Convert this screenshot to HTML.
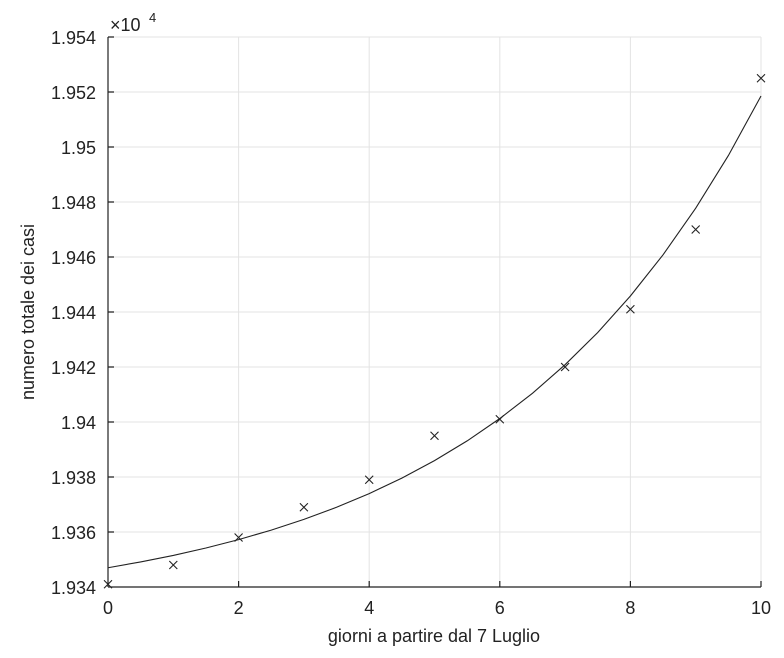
<!DOCTYPE html>
<html><head><style>body{margin:0;background:#fff}svg{display:block}text{font-family:"Liberation Sans",sans-serif;fill:#222}</style></head>
<body>
<svg width="784" height="658" viewBox="0 0 784 658">
<g stroke="#e3e3e3" stroke-width="1">
<line x1="238.6" y1="37" x2="238.6" y2="587"/><line x1="369.2" y1="37" x2="369.2" y2="587"/><line x1="499.8" y1="37" x2="499.8" y2="587"/><line x1="630.4" y1="37" x2="630.4" y2="587"/><line x1="761" y1="37" x2="761" y2="587"/>
<line x1="108" y1="37" x2="761" y2="37"/><line x1="108" y1="92" x2="761" y2="92"/><line x1="108" y1="147" x2="761" y2="147"/><line x1="108" y1="202" x2="761" y2="202"/><line x1="108" y1="257" x2="761" y2="257"/><line x1="108" y1="312" x2="761" y2="312"/><line x1="108" y1="367" x2="761" y2="367"/><line x1="108" y1="422" x2="761" y2="422"/><line x1="108" y1="477" x2="761" y2="477"/><line x1="108" y1="532" x2="761" y2="532"/>
</g>
<g stroke="#222" stroke-width="1.2" fill="none">
<line x1="108" y1="37" x2="108" y2="587"/><line x1="108" y1="587" x2="761" y2="587"/>
<path d="M108 37h6M108 92h6M108 147h6M108 202h6M108 257h6M108 312h6M108 367h6M108 422h6M108 477h6M108 532h6M238.6 587v-6M369.2 587v-6M499.8 587v-6M630.4 587v-6M761 587v-6"/>
<polyline stroke-width="1.1" points="108,567.75 140.65,561.9 173.3,555.4 205.95,548 238.6,539.6 271.25,530.1 303.9,519.4 336.55,507.3 369.2,493.6 401.85,478.1 434.5,460.6 467.15,440.9 499.8,418.5 532.45,393.3 565.1,364.7 597.75,332.5 630.4,296 663.05,254.8 695.7,208.2 728.35,155.6 761,96"/>
</g>
<g stroke="#222" stroke-width="1.1">
<path d="M104 580.25l8 8M104 588.25l8-8 M169.3 561l8 8M169.3 569l8-8 M234.6 533.5l8 8M234.6 541.5l8-8 M299.9 503.25l8 8M299.9 511.25l8-8 M365.2 475.75l8 8M365.2 483.75l8-8 M430.5 431.75l8 8M430.5 439.75l8-8 M495.8 415.25l8 8M495.8 423.25l8-8 M561.1 363l8 8M561.1 371l8-8 M626.4 305.25l8 8M626.4 313.25l8-8 M691.7 225.5l8 8M691.7 233.5l8-8 M757 74.25l8 8M757 82.25l8-8"/>
</g>
<g font-size="18" text-anchor="end">
<text x="96" y="44">1.954</text><text x="96" y="99">1.952</text><text x="96" y="154">1.95</text><text x="96" y="209">1.948</text><text x="96" y="264">1.946</text><text x="96" y="319">1.944</text><text x="96" y="374">1.942</text><text x="96" y="429">1.94</text><text x="96" y="484">1.938</text><text x="96" y="539">1.936</text><text x="96" y="594">1.934</text>
</g>
<g font-size="18" text-anchor="middle">
<text x="108" y="614">0</text><text x="238.6" y="614">2</text><text x="369.2" y="614">4</text><text x="499.8" y="614">6</text><text x="630.4" y="614">8</text><text x="761" y="614">10</text>
<text x="434" y="642">giorni a partire dal 7 Luglio</text>
<text transform="translate(34,312) rotate(-90)">numero totale dei casi</text>
</g>
<text x="110" y="31" font-size="18">×10</text><text x="149" y="22" font-size="13">4</text>
</svg>
</body></html>
